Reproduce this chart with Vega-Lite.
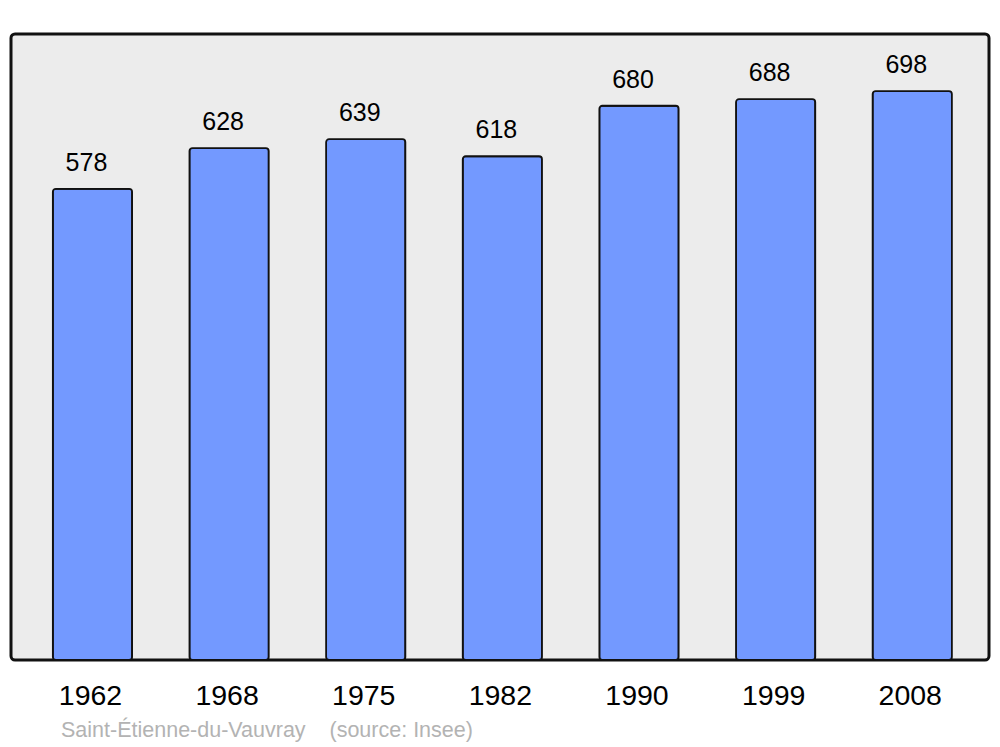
{
  "$schema": "https://vega.github.io/schema/vega-lite/v6.json",
  "width": 978,
  "height": 626,
  "autosize": "none",
  "padding": {"left": 11, "top": 34, "right": 11, "bottom": 87},
  "background": "white",
  "config": {
    "font": "Liberation Sans",
    "view": {"fill": "#ececec", "stroke": "#111111", "strokeWidth": 3, "cornerRadius": 4}
  },
  "title": {
    "text": "Saint-Étienne-du-Vauvray\u00a0\u00a0\u00a0\u00a0(source: Insee)",
    "orient": "bottom",
    "anchor": "start",
    "dx": 50,
    "offset": 10,
    "font": "Liberation Sans",
    "fontSize": 21.5,
    "fontWeight": "normal",
    "color": "#b3b3b3"
  },
  "data": {
    "values": [
      {"year": "1962", "population": 578},
      {"year": "1968", "population": 628},
      {"year": "1975", "population": 639},
      {"year": "1982", "population": 618},
      {"year": "1990", "population": 680},
      {"year": "1999", "population": 688},
      {"year": "2008", "population": 698}
    ]
  },
  "encoding": {
    "x": {
      "field": "year",
      "type": "ordinal",
      "sort": null,
      "scale": {"paddingInner": 0.42, "paddingOuter": 0.289, "align": 0.53},
      "axis": {
        "title": null,
        "ticks": false,
        "tickSize": 0,
        "domain": false,
        "labelAngle": 0,
        "labelFontSize": 28.5,
        "labelColor": "#000000",
        "labelPadding": 21,
        "labelOffset": -2,
        "labelFont": "Liberation Sans"
      }
    },
    "y": {
      "field": "population",
      "type": "quantitative",
      "scale": {"domain": [0, 768], "nice": false, "zero": true},
      "axis": null
    }
  },
  "layer": [
    {
      "mark": {
        "type": "bar",
        "color": "#7399ff",
        "stroke": "#111111",
        "strokeWidth": 1.8,
        "cornerRadius": 3
      }
    },
    {
      "mark": {
        "type": "text",
        "baseline": "alphabetic",
        "dy": -18,
        "dx": -6,
        "fontSize": 25,
        "color": "#000000",
        "font": "Liberation Sans"
      },
      "encoding": {"text": {"field": "population", "type": "quantitative"}}
    }
  ]
}
